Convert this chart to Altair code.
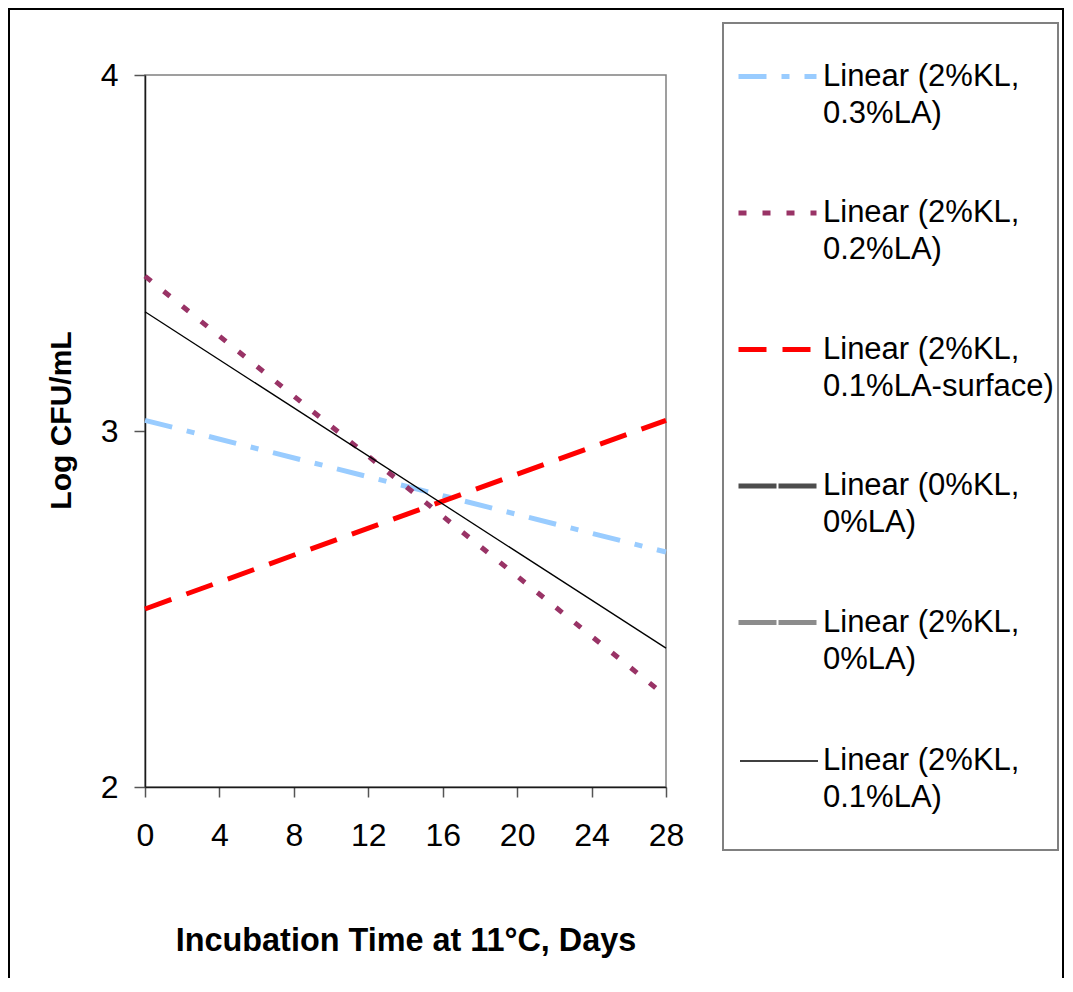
import altair as alt
import pandas as pd

# ---- data ----
days = [0, 28]
series_names = [
    "Linear (2%KL, 0.3%LA)",
    "Linear (2%KL, 0.2%LA)",
    "Linear (2%KL, 0.1%LA-surface)",
    "Linear (0%KL, 0%LA)",
    "Linear (2%KL, 0%LA)",
    "Linear (2%KL, 0.1%LA)",
]
vals_2kl_03la = [3.03, 2.66]
vals_2kl_02la = [3.435, 2.255]
vals_2kl_01la_surface = [2.50, 3.03]
vals_2kl_01la = [3.335, 2.39]

x_ticks = [0, 4, 8, 12, 16, 20, 24, 28]
y_domain = [2, 4]
y_tick_count = 2  # gives ticks 2, 3, 4

thick_colors = ["#99CCFF", "#993366", "#FF0000", "#4D4D4D", "#8C8C8C"]
thick_dashes = [[28, 15, 8, 15], [8, 16], [28, 16], [38, 2], [38, 2]]

thick_df = pd.DataFrame({
    "series": [series_names[0]] * 2 + [series_names[1]] * 2 + [series_names[2]] * 2,
    "day": days * 3,
    "value": vals_2kl_03la + vals_2kl_02la + vals_2kl_01la_surface,
})
thin_df = pd.DataFrame({
    "series": [series_names[5]] * 2,
    "day": days,
    "value": vals_2kl_01la,
})

FONT = "Liberation Sans"
label_expr = ("[slice(datum.label, 0, indexof(datum.label, ',') + 1), "
              "slice(datum.label, indexof(datum.label, ',') + 2)]")

x_enc = alt.X(
    "day:Q",
    scale=alt.Scale(domain=[0, 28], nice=False),
    axis=alt.Axis(values=x_ticks, tickCount=8, format="d",
                  title="Incubation Time at 11°C, Days",
                  grid=False, tickSize=10, labelPadding=23, titlePadding=73,
                  labelFontSize=32, labelFlush=False, labelOverlap=False,
                  titleFontSize=32.4),
)
y_enc = alt.Y(
    "value:Q",
    scale=alt.Scale(domain=y_domain, nice=False),
    axis=alt.Axis(tickCount=y_tick_count, format="d", title="Log CFU/mL",
                  grid=False, tickSize=11, labelPadding=16, titlePadding=24,
                  labelFontSize=32, labelFlush=False, labelOverlap=False,
                  titleFontSize=30, titleY=345),
)

legend_common = dict(
    orient="none", title=None, symbolType="stroke", symbolSize=6084,
    labelFont=FONT, labelFontSize=31, labelColor="black", labelLimit=500,
    labelOffset=4, padding=0, labelExpr=label_expr, symbolOpacity=1,
)
legend_a = alt.Legend(legendX=591, legendY=-40, rowPadding=42.5,
                      symbolStrokeWidth=5, **legend_common)
legend_b = alt.Legend(legendX=594, legendY=646, symbolStrokeWidth=1.3,
                      **legend_common)

thick = alt.Chart(thick_df).mark_line(strokeWidth=5, strokeCap="butt").encode(
    x=x_enc,
    y=y_enc,
    color=alt.Color("series:N",
                    scale=alt.Scale(domain=series_names[:5], range=thick_colors),
                    legend=legend_a),
    strokeDash=alt.StrokeDash("series:N",
                              scale=alt.Scale(domain=series_names[:5], range=thick_dashes),
                              legend=legend_a),
)

thin = alt.Chart(thin_df).mark_line(strokeWidth=1.3).encode(
    x=x_enc,
    y=y_enc,
    stroke=alt.Stroke("series:N",
                      scale=alt.Scale(domain=[series_names[5]], range=["#000000"]),
                      legend=legend_b),
)

# decorations: outer chart frame (open at the bottom, as cropped) and legend box
one_row = alt.Data(values=[{"k": 1}])
frame_left = alt.Chart(one_row).mark_rect(color="black").encode(
    x=alt.value(-137), x2=alt.value(-135), y=alt.value(-67), y2=alt.value(903))
frame_top = alt.Chart(one_row).mark_rect(color="black").encode(
    x=alt.value(-137), x2=alt.value(919), y=alt.value(-67), y2=alt.value(-65))
frame_right = alt.Chart(one_row).mark_rect(color="black").encode(
    x=alt.value(917), x2=alt.value(919), y=alt.value(-67), y2=alt.value(903))
legend_box = alt.Chart(one_row).mark_rect(fillOpacity=0, stroke="#808080", strokeWidth=2).encode(
    x=alt.value(578), x2=alt.value(913), y=alt.value(-52), y2=alt.value(775))

chart = alt.layer(
    frame_left, frame_top, frame_right, legend_box, thick, thin
).properties(
    width=521, height=712, padding=0, background="white"
).configure(
    style={"guide-label": {"lineHeight": 37}}
).configure_view(
    stroke="#808080", strokeWidth=1.5
).configure_axis(
    labelFont=FONT, labelFontSize=32, labelColor="black",
    titleFont=FONT, titleFontWeight="bold", titleColor="black",
    domainColor="#1a1a1a", domainWidth=1.5, tickColor="#555555", tickWidth=1.5,
)

chart.save("out.html", embed_options={"renderer": "svg", "actions": False})
